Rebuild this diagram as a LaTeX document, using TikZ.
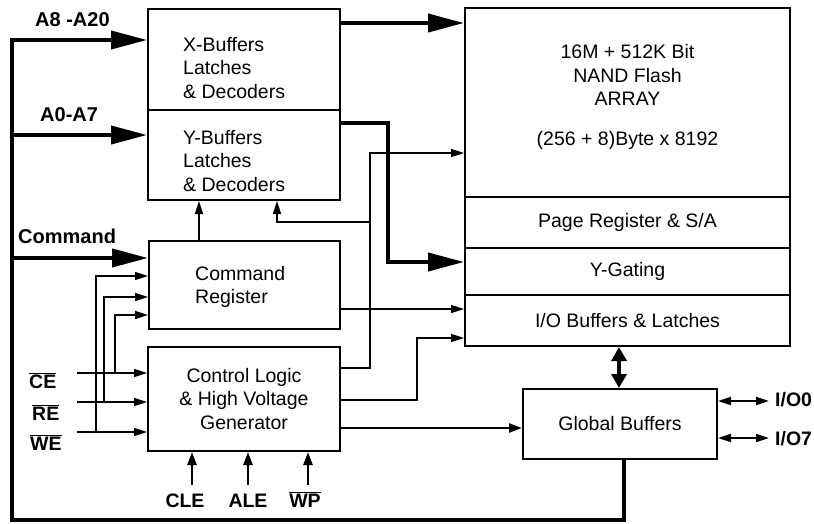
\documentclass[tikz,border=0pt]{standalone}
\usepackage{fontspec}
\setmainfont{Liberation Sans}
\usetikzlibrary{arrows.meta,calc}
\newcommand{\dgbody}{\fontsize{19.5}{23.5}\selectfont}
\newcommand{\dglbl}{\bfseries\fontsize{19.5}{23}\selectfont}
\newcommand{\dgbig}{\bfseries\fontsize{20}{23}\selectfont}
\newcommand{\ovl}[1]{$\overline{\hbox{#1}}$}
\begin{document}
\begin{tikzpicture}[x=1pt,y=-1pt,
  blk/.style={draw, line width=2pt, inner sep=0pt, font=\dgbody},
  txt/.style={inner sep=0pt, font=\dgbody},
  lbl/.style={inner sep=0pt, font=\dglbl},
  biglbl/.style={inner sep=0pt, font=\dgbig},
  bigarrow/.style={line width=4pt, -{Triangle[length=36pt,width=18pt]}},
  sig/.style={line width=1.6pt, -{Triangle[length=13pt,width=8pt]}},
  medarrow/.style={line width=2.4pt, -{Triangle[length=13pt,width=9pt]}},
  dbl/.style={line width=4pt, {Triangle[length=14pt,width=15pt]}-{Triangle[length=14pt,width=15pt]}},
  ioarrow/.style={line width=2pt, {Triangle[length=13pt,width=8pt]}-{Triangle[length=13pt,width=8pt]}}]
\useasboundingbox (0,0) rectangle (814,524);

% blocks
\node[blk, minimum width=192pt, minimum height=101pt] (xbuf) at (244,59.5) {};
\node[txt, anchor=west, align=left] (xbuft) at (183,68) {X-Buffers\\Latches\\\& Decoders};
\node[blk, minimum width=192pt, minimum height=90pt] (ybuf) at (244,155) {};
\node[txt, anchor=west, align=left] (ybuft) at (183,161) {Y-Buffers\\Latches\\\& Decoders};
\node[blk, minimum width=191pt, minimum height=88pt] (cmd) at (244.5,285) {};
\node[txt, anchor=west, align=left] (cmdt) at (195,287) {Command\\Register};
\node[blk, minimum width=192pt, minimum height=104pt, align=center] (ctrl) at (244,399) {Control Logic\\\& High Voltage\\Generator};

\node[blk, minimum width=325pt, minimum height=189pt] (array) at (627.5,102.5) {};
\node[txt, align=center] (arrayt) at (627.5,75) {16M + 512K Bit\\NAND Flash\\ARRAY};
\node[txt] (arrayb) at (627.5,140) {(256 + 8)Byte x 8192};
\node[blk, minimum width=325pt, minimum height=51pt] (page) at (627.5,222.5) {Page Register \& S/A};
\node[blk, minimum width=325pt, minimum height=47pt] (ygate) at (627.5,271.5) {Y-Gating};
\node[blk, minimum width=325pt, minimum height=51pt] (iobuf) at (627.5,320.5) {I/O Buffers \& Latches};
\node[blk, minimum width=194pt, minimum height=70pt] (gb) at (620,424) {Global Buffers};

% labels
\node[biglbl, anchor=base west] (la8) at (35,27) {A8 -A20};
\node[biglbl, anchor=base west] (la0) at (40,122) {A0-A7};
\node[biglbl, anchor=base west] (lcmd) at (18,243) {Command};
\node[lbl, anchor=base west] (lce) at (29,388) {\ovl{CE}};
\node[lbl, anchor=base west] (lre) at (32,420) {\ovl{RE}};
\node[lbl, anchor=base west] (lwe) at (30,450) {\ovl{WE}};
\node[lbl, anchor=base] (lcle) at (185,507) {CLE};
\node[lbl, anchor=base] (lale) at (248,507) {ALE};
\node[lbl, anchor=base] (lwp) at (305,507) {\ovl{WP}};
\node[lbl, anchor=base west, inner xsep=6pt] (io0) at (769,406) {I/O0};
\node[lbl, anchor=base west, inner xsep=6pt] (io7) at (769,445) {I/O7};

% coordinates
\coordinate (busTL) at (12,40);
\coordinate (busBL) at (12,520);
\coordinate (gbx) at (624,520);
\coordinate (bA0) at (12,135);
\coordinate (bCmd) at (12,258);
\coordinate (r23) at (400,23);
\coordinate (yk1) at (388,123);
\coordinate (yk2) at (388,262);
\coordinate (c1a) at (370,368);
\coordinate (c1b) at (370,153);
\coordinate (br) at (370,222);
\coordinate (br2) at (277,222);
\coordinate (cy) at (199,230);
\coordinate (ci) at (400,309);
\coordinate (c2a) at (417,400);
\coordinate (c2b) at (417,338);
\coordinate (c3) at (450,428);
\coordinate (dx) at (619,360);
\coordinate (o0) at (740,401);
\coordinate (o7) at (740,438);
\coordinate (ce) at (77,373);
\coordinate (re) at (77,402);
\coordinate (we) at (77,432);
\coordinate (v1) at (96,276);
\coordinate (v2) at (104,297);
\coordinate (v3) at (115,315);
\coordinate (cle) at (192,485);
\coordinate (ale) at (248,485);
\coordinate (wp) at (308,485);

% bus
\draw[bigarrow] (gb.south -| gbx) -- (gbx) -- (busBL) -- (busTL) -- (xbuf.west |- busTL);
\draw[bigarrow] (bA0) -- (ybuf.west |- bA0);
\draw[bigarrow] (bCmd) -- (cmd.west |- bCmd);

% thick data paths
\draw[bigarrow] (xbuf.east |- r23) -- (array.west |- r23);
\draw[bigarrow] (ybuf.east |- yk1) -- (yk1) -- (yk2) -- (array.west |- yk2);

% control logic outputs
\draw[sig] (ctrl.east |- c1a) -- (c1a) -- (c1b) -- (array.west |- c1b);
\draw[sig] (br) -- (br2) -- (br2 |- ybuf.south);
\draw[sig] (ctrl.east |- c2a) -- (c2a) -- (c2b) -- (iobuf.west |- c2b);
\draw[medarrow] (ctrl.east |- c3) -- (gb.west |- c3);

% command register
\draw[sig] (cmd.north -| cy) -- (ybuf.south -| cy);
\draw[sig] (cmd.east |- ci) -- (iobuf.west |- ci);

% global buffers
\draw[dbl] (iobuf.south -| dx) -- (gb.north -| dx);
\draw[ioarrow] (gb.east |- o0) -- (io0.west |- o0);
\draw[ioarrow] (gb.east |- o7) -- (io7.west |- o7);

% control inputs
\draw[sig] (ce) -- (ctrl.west |- ce);
\draw[sig] (re) -- (ctrl.west |- re);
\draw[sig] (we) -- (ctrl.west |- we);
\draw[sig] (v1 |- we) -- (v1) -- (cmd.west |- v1);
\draw[sig] (v2 |- re) -- (v2) -- (cmd.west |- v2);
\draw[sig] (v3 |- ce) -- (v3) -- (cmd.west |- v3);
\draw[medarrow] (cle) -- (ctrl.south -| cle);
\draw[medarrow] (ale) -- (ctrl.south -| ale);
\draw[medarrow] (wp) -- (ctrl.south -| wp);
\end{tikzpicture}
\end{document}
